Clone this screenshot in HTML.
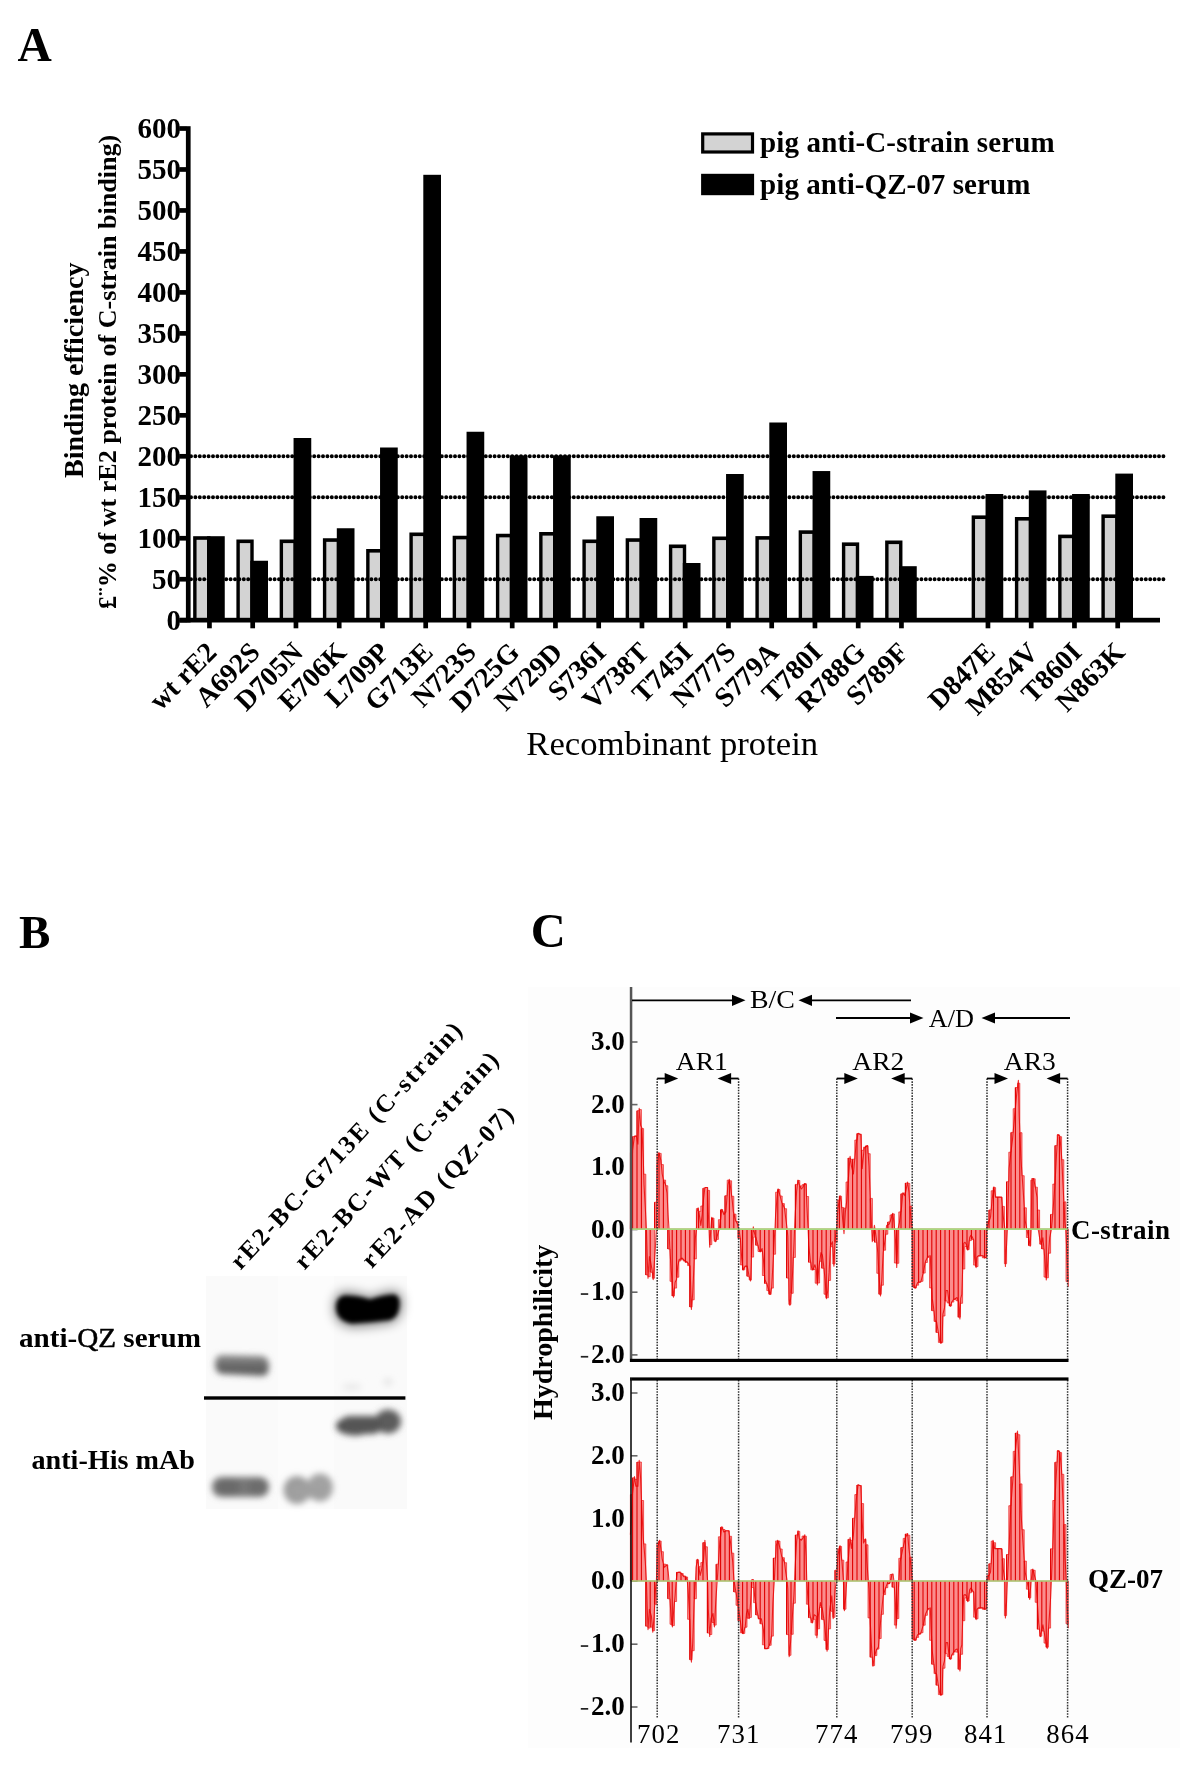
<!DOCTYPE html>
<html><head><meta charset="utf-8"><style>
html,body{margin:0;padding:0;background:#fff;}
svg{display:block;will-change:transform;}
</style></head><body>
<svg width="1200" height="1773" viewBox="0 0 1200 1773">
<defs>
<filter id="bl3" x="-50%" y="-50%" width="200%" height="200%"><feGaussianBlur stdDeviation="3"/></filter>
<filter id="bl6" x="-50%" y="-50%" width="200%" height="200%"><feGaussianBlur stdDeviation="6"/></filter>
<filter id="bl2" x="-50%" y="-50%" width="200%" height="200%"><feGaussianBlur stdDeviation="2"/></filter>
<linearGradient id="gband1" x1="0" y1="0" x2="0" y2="1"><stop offset="0" stop-color="#8c8c8c"/><stop offset="0.7" stop-color="#5e5e5e"/><stop offset="1" stop-color="#666"/></linearGradient>
<pattern id="hatch" x="0" y="0" width="3.4" height="10" patternUnits="userSpaceOnUse"><rect x="0" y="0" width="1.1" height="10" fill="#e40000"/></pattern>
</defs>
<text x="17.5" y="60.6" font-family='"Liberation Serif", serif' font-weight="bold" font-size="47.5">A</text>
<rect x="193.15" y="536.20" width="17.30" height="83.95" fill="#000"/>
<rect x="196.55" y="539.80" width="10.50" height="80.35" fill="#d3d3d3"/>
<rect x="207.05" y="536.20" width="17.70" height="83.95" fill="#000"/>
<rect x="236.40" y="539.50" width="17.30" height="80.65" fill="#000"/>
<rect x="239.80" y="543.10" width="10.50" height="77.05" fill="#d3d3d3"/>
<rect x="250.30" y="560.75" width="17.70" height="59.40" fill="#000"/>
<rect x="279.65" y="539.50" width="17.30" height="80.65" fill="#000"/>
<rect x="283.05" y="543.10" width="10.50" height="77.05" fill="#d3d3d3"/>
<rect x="293.55" y="438.00" width="17.70" height="182.15" fill="#000"/>
<rect x="322.90" y="538.25" width="17.30" height="81.90" fill="#000"/>
<rect x="326.30" y="541.85" width="10.50" height="78.30" fill="#d3d3d3"/>
<rect x="336.80" y="528.25" width="17.70" height="91.90" fill="#000"/>
<rect x="366.15" y="549.00" width="17.30" height="71.15" fill="#000"/>
<rect x="369.55" y="552.60" width="10.50" height="67.55" fill="#d3d3d3"/>
<rect x="380.05" y="447.50" width="17.70" height="172.65" fill="#000"/>
<rect x="409.40" y="532.50" width="17.30" height="87.65" fill="#000"/>
<rect x="412.80" y="536.10" width="10.50" height="84.05" fill="#d3d3d3"/>
<rect x="423.30" y="174.80" width="17.70" height="445.35" fill="#000"/>
<rect x="452.65" y="535.75" width="17.30" height="84.40" fill="#000"/>
<rect x="456.05" y="539.35" width="10.50" height="80.80" fill="#d3d3d3"/>
<rect x="466.55" y="431.75" width="17.70" height="188.40" fill="#000"/>
<rect x="495.90" y="533.75" width="17.30" height="86.40" fill="#000"/>
<rect x="499.30" y="537.35" width="10.50" height="82.80" fill="#d3d3d3"/>
<rect x="509.80" y="455.50" width="17.70" height="164.65" fill="#000"/>
<rect x="539.15" y="532.00" width="17.30" height="88.15" fill="#000"/>
<rect x="542.55" y="535.60" width="10.50" height="84.55" fill="#d3d3d3"/>
<rect x="553.05" y="455.50" width="17.70" height="164.65" fill="#000"/>
<rect x="582.40" y="539.50" width="17.30" height="80.65" fill="#000"/>
<rect x="585.80" y="543.10" width="10.50" height="77.05" fill="#d3d3d3"/>
<rect x="596.30" y="516.25" width="17.70" height="103.90" fill="#000"/>
<rect x="625.65" y="538.25" width="17.30" height="81.90" fill="#000"/>
<rect x="629.05" y="541.85" width="10.50" height="78.30" fill="#d3d3d3"/>
<rect x="639.55" y="518.00" width="17.70" height="102.15" fill="#000"/>
<rect x="668.90" y="544.50" width="17.30" height="75.65" fill="#000"/>
<rect x="672.30" y="548.10" width="10.50" height="72.05" fill="#d3d3d3"/>
<rect x="682.80" y="563.00" width="17.70" height="57.15" fill="#000"/>
<rect x="712.15" y="536.50" width="17.30" height="83.65" fill="#000"/>
<rect x="715.55" y="540.10" width="10.50" height="80.05" fill="#d3d3d3"/>
<rect x="726.05" y="474.00" width="17.70" height="146.15" fill="#000"/>
<rect x="755.40" y="536.10" width="17.30" height="84.05" fill="#000"/>
<rect x="758.80" y="539.70" width="10.50" height="80.45" fill="#d3d3d3"/>
<rect x="769.30" y="422.50" width="17.70" height="197.65" fill="#000"/>
<rect x="798.65" y="530.30" width="17.30" height="89.85" fill="#000"/>
<rect x="802.05" y="533.90" width="10.50" height="86.25" fill="#d3d3d3"/>
<rect x="812.55" y="471.05" width="17.70" height="149.10" fill="#000"/>
<rect x="841.90" y="542.40" width="17.30" height="77.75" fill="#000"/>
<rect x="845.30" y="546.00" width="10.50" height="74.15" fill="#d3d3d3"/>
<rect x="855.80" y="575.90" width="17.70" height="44.25" fill="#000"/>
<rect x="885.15" y="540.50" width="17.30" height="79.65" fill="#000"/>
<rect x="888.55" y="544.10" width="10.50" height="76.05" fill="#d3d3d3"/>
<rect x="899.05" y="566.20" width="17.70" height="53.95" fill="#000"/>
<rect x="971.65" y="515.40" width="17.30" height="104.75" fill="#000"/>
<rect x="975.05" y="519.00" width="10.50" height="101.15" fill="#d3d3d3"/>
<rect x="985.55" y="494.00" width="17.70" height="126.15" fill="#000"/>
<rect x="1014.90" y="517.00" width="17.30" height="103.15" fill="#000"/>
<rect x="1018.30" y="520.60" width="10.50" height="99.55" fill="#d3d3d3"/>
<rect x="1028.80" y="490.40" width="17.70" height="129.75" fill="#000"/>
<rect x="1058.15" y="534.60" width="17.30" height="85.55" fill="#000"/>
<rect x="1061.55" y="538.20" width="10.50" height="81.95" fill="#d3d3d3"/>
<rect x="1072.05" y="494.00" width="17.70" height="126.15" fill="#000"/>
<rect x="1101.40" y="514.40" width="17.30" height="105.75" fill="#000"/>
<rect x="1104.80" y="518.00" width="10.50" height="102.15" fill="#d3d3d3"/>
<rect x="1115.30" y="473.60" width="17.70" height="146.55" fill="#000"/>
<line x1="191" y1="456.30" x2="1164.5" y2="456.30" stroke="#000" stroke-width="4" stroke-dasharray="0 4.4" stroke-linecap="round"/>
<line x1="191" y1="497.28" x2="1164.5" y2="497.28" stroke="#000" stroke-width="4" stroke-dasharray="0 4.4" stroke-linecap="round"/>
<line x1="191" y1="579.23" x2="1164.5" y2="579.23" stroke="#000" stroke-width="4" stroke-dasharray="0 4.4" stroke-linecap="round"/>
<rect x="185.9" y="126.2" width="4.7" height="496.3" fill="#000"/>
<rect x="179.8" y="617.8" width="980.2" height="4.7" fill="#000"/>
<rect x="179.3" y="617.85" width="7" height="4.7" fill="#000"/>
<text x="181" y="630.10" text-anchor="end" font-family='"Liberation Serif", serif' font-weight="bold" font-size="29">0</text>
<rect x="179.3" y="576.88" width="7" height="4.7" fill="#000"/>
<text x="181" y="589.12" text-anchor="end" font-family='"Liberation Serif", serif' font-weight="bold" font-size="29">50</text>
<rect x="179.3" y="535.90" width="7" height="4.7" fill="#000"/>
<text x="181" y="548.15" text-anchor="end" font-family='"Liberation Serif", serif' font-weight="bold" font-size="29">100</text>
<rect x="179.3" y="494.93" width="7" height="4.7" fill="#000"/>
<text x="181" y="507.18" text-anchor="end" font-family='"Liberation Serif", serif' font-weight="bold" font-size="29">150</text>
<rect x="179.3" y="453.95" width="7" height="4.7" fill="#000"/>
<text x="181" y="466.20" text-anchor="end" font-family='"Liberation Serif", serif' font-weight="bold" font-size="29">200</text>
<rect x="179.3" y="412.98" width="7" height="4.7" fill="#000"/>
<text x="181" y="425.23" text-anchor="end" font-family='"Liberation Serif", serif' font-weight="bold" font-size="29">250</text>
<rect x="179.3" y="372.00" width="7" height="4.7" fill="#000"/>
<text x="181" y="384.25" text-anchor="end" font-family='"Liberation Serif", serif' font-weight="bold" font-size="29">300</text>
<rect x="179.3" y="331.03" width="7" height="4.7" fill="#000"/>
<text x="181" y="343.28" text-anchor="end" font-family='"Liberation Serif", serif' font-weight="bold" font-size="29">350</text>
<rect x="179.3" y="290.05" width="7" height="4.7" fill="#000"/>
<text x="181" y="302.30" text-anchor="end" font-family='"Liberation Serif", serif' font-weight="bold" font-size="29">400</text>
<rect x="179.3" y="249.08" width="7" height="4.7" fill="#000"/>
<text x="181" y="261.33" text-anchor="end" font-family='"Liberation Serif", serif' font-weight="bold" font-size="29">450</text>
<rect x="179.3" y="208.10" width="7" height="4.7" fill="#000"/>
<text x="181" y="220.35" text-anchor="end" font-family='"Liberation Serif", serif' font-weight="bold" font-size="29">500</text>
<rect x="179.3" y="167.13" width="7" height="4.7" fill="#000"/>
<text x="181" y="179.38" text-anchor="end" font-family='"Liberation Serif", serif' font-weight="bold" font-size="29">550</text>
<rect x="179.3" y="126.15" width="7" height="4.7" fill="#000"/>
<text x="181" y="138.40" text-anchor="end" font-family='"Liberation Serif", serif' font-weight="bold" font-size="29">600</text>
<rect x="207.10" y="622" width="4.7" height="6.3" fill="#000"/>
<text transform="translate(218.15,653.85) rotate(-45)" text-anchor="end" font-family='"Liberation Serif", serif' font-weight="bold" font-size="28">wt rE2</text>
<rect x="250.35" y="622" width="4.7" height="6.3" fill="#000"/>
<text transform="translate(261.40,653.85) rotate(-45)" text-anchor="end" font-family='"Liberation Serif", serif' font-weight="bold" font-size="28">A692S</text>
<rect x="293.60" y="622" width="4.7" height="6.3" fill="#000"/>
<text transform="translate(304.65,653.85) rotate(-45)" text-anchor="end" font-family='"Liberation Serif", serif' font-weight="bold" font-size="28">D705N</text>
<rect x="336.85" y="622" width="4.7" height="6.3" fill="#000"/>
<text transform="translate(347.90,653.85) rotate(-45)" text-anchor="end" font-family='"Liberation Serif", serif' font-weight="bold" font-size="28">E706K</text>
<rect x="380.10" y="622" width="4.7" height="6.3" fill="#000"/>
<text transform="translate(391.15,653.85) rotate(-45)" text-anchor="end" font-family='"Liberation Serif", serif' font-weight="bold" font-size="28">L709P</text>
<rect x="423.35" y="622" width="4.7" height="6.3" fill="#000"/>
<text transform="translate(434.40,653.85) rotate(-45)" text-anchor="end" font-family='"Liberation Serif", serif' font-weight="bold" font-size="28">G713E</text>
<rect x="466.60" y="622" width="4.7" height="6.3" fill="#000"/>
<text transform="translate(477.65,653.85) rotate(-45)" text-anchor="end" font-family='"Liberation Serif", serif' font-weight="bold" font-size="28">N723S</text>
<rect x="509.85" y="622" width="4.7" height="6.3" fill="#000"/>
<text transform="translate(520.90,653.85) rotate(-45)" text-anchor="end" font-family='"Liberation Serif", serif' font-weight="bold" font-size="28">D725G</text>
<rect x="553.10" y="622" width="4.7" height="6.3" fill="#000"/>
<text transform="translate(564.15,653.85) rotate(-45)" text-anchor="end" font-family='"Liberation Serif", serif' font-weight="bold" font-size="28">N729D</text>
<rect x="596.35" y="622" width="4.7" height="6.3" fill="#000"/>
<text transform="translate(607.40,653.85) rotate(-45)" text-anchor="end" font-family='"Liberation Serif", serif' font-weight="bold" font-size="28">S736I</text>
<rect x="639.60" y="622" width="4.7" height="6.3" fill="#000"/>
<text transform="translate(650.65,653.85) rotate(-45)" text-anchor="end" font-family='"Liberation Serif", serif' font-weight="bold" font-size="28">V738T</text>
<rect x="682.85" y="622" width="4.7" height="6.3" fill="#000"/>
<text transform="translate(693.90,653.85) rotate(-45)" text-anchor="end" font-family='"Liberation Serif", serif' font-weight="bold" font-size="28">T745I</text>
<rect x="726.10" y="622" width="4.7" height="6.3" fill="#000"/>
<text transform="translate(737.15,653.85) rotate(-45)" text-anchor="end" font-family='"Liberation Serif", serif' font-weight="bold" font-size="28">N777S</text>
<rect x="769.35" y="622" width="4.7" height="6.3" fill="#000"/>
<text transform="translate(780.40,653.85) rotate(-45)" text-anchor="end" font-family='"Liberation Serif", serif' font-weight="bold" font-size="28">S779A</text>
<rect x="812.60" y="622" width="4.7" height="6.3" fill="#000"/>
<text transform="translate(823.65,653.85) rotate(-45)" text-anchor="end" font-family='"Liberation Serif", serif' font-weight="bold" font-size="28">T780I</text>
<rect x="855.85" y="622" width="4.7" height="6.3" fill="#000"/>
<text transform="translate(866.90,653.85) rotate(-45)" text-anchor="end" font-family='"Liberation Serif", serif' font-weight="bold" font-size="28">R788G</text>
<rect x="899.10" y="622" width="4.7" height="6.3" fill="#000"/>
<text transform="translate(910.15,653.85) rotate(-45)" text-anchor="end" font-family='"Liberation Serif", serif' font-weight="bold" font-size="28">S789F</text>
<rect x="985.60" y="622" width="4.7" height="6.3" fill="#000"/>
<text transform="translate(996.65,653.85) rotate(-45)" text-anchor="end" font-family='"Liberation Serif", serif' font-weight="bold" font-size="28">D847E</text>
<rect x="1028.85" y="622" width="4.7" height="6.3" fill="#000"/>
<text transform="translate(1039.90,653.85) rotate(-45)" text-anchor="end" font-family='"Liberation Serif", serif' font-weight="bold" font-size="28">M854V</text>
<rect x="1072.10" y="622" width="4.7" height="6.3" fill="#000"/>
<text transform="translate(1083.15,653.85) rotate(-45)" text-anchor="end" font-family='"Liberation Serif", serif' font-weight="bold" font-size="28">T860I</text>
<rect x="1115.35" y="622" width="4.7" height="6.3" fill="#000"/>
<text transform="translate(1126.40,653.85) rotate(-45)" text-anchor="end" font-family='"Liberation Serif", serif' font-weight="bold" font-size="28">N863K</text>
<text transform="translate(82.8,478) rotate(-90)" font-family='"Liberation Serif", serif' font-weight="bold" font-size="28">Binding efficiency</text>
<text transform="translate(116,609) rotate(-90)" font-family='"Liberation Serif", serif' font-weight="bold" font-size="26.1">£¨% of wt rE2 protein of C-strain binding)</text>
<text x="526.3" y="754.9" font-family='"Liberation Serif", serif' font-size="34.7">Recombinant protein</text>
<rect x="702.7" y="133.9" width="49.8" height="18.1" fill="#d3d3d3" stroke="#000" stroke-width="3.2"/>
<rect x="701.1" y="173.8" width="53" height="21.4" fill="#000"/>
<text x="760.1" y="152.1" font-family='"Liberation Serif", serif' font-weight="bold" font-size="29" textLength="294.6" lengthAdjust="spacing">pig anti-C-strain serum</text>
<text x="760.1" y="194.4" font-family='"Liberation Serif", serif' font-weight="bold" font-size="29" textLength="270.2" lengthAdjust="spacing">pig anti-QZ-07 serum</text>
<text x="19" y="948.3" font-family='"Liberation Serif", serif' font-weight="bold" font-size="47">B</text>
<rect x="206" y="1276" width="201" height="233" fill="#fafafa"/>
<rect x="278" y="1276" width="56" height="233" fill="#fcfcfc"/>
<g filter="url(#bl3)">
<path d="M222,1355 L262,1356 Q269,1357 269,1366 Q269,1376 262,1376 L222,1374 Q215,1373 215,1364 Q215,1355 222,1355 Z" fill="url(#gband1)"/>
<ellipse cx="355" cy="1426" rx="19" ry="9.5" fill="#4a4a4a"/>
<ellipse cx="388" cy="1421.5" rx="13" ry="12" fill="#5c5c5c"/>
<rect x="341" y="1416" width="40" height="18" rx="8" fill="#555"/>
<rect x="212" y="1477" width="57" height="20" rx="9" fill="#777"/>
<ellipse cx="228" cy="1487" rx="12" ry="9" fill="#6a6a6a"/>
<ellipse cx="258" cy="1487" rx="10" ry="9" fill="#6d6d6d"/>
<ellipse cx="297" cy="1490" rx="13.5" ry="14" fill="#9c9c9c"/>
<ellipse cx="320" cy="1487.5" rx="13" ry="14" fill="#a2a2a2"/>
<rect x="292" y="1486" width="30" height="12" fill="#a0a0a0"/>
<ellipse cx="352" cy="1387" rx="10" ry="4" fill="#ececec"/>
<ellipse cx="388" cy="1382" rx="5" ry="4" fill="#e8e8e8"/>
</g>
<g filter="url(#bl6)" opacity="0.5"><path d="M334,1308 Q334,1292 346,1292 Q360,1293 370,1298 Q383,1292 394,1291 Q403,1293 402,1304 Q401,1320 390,1323 Q372,1326 352,1327 Q334,1324 334,1308 Z" fill="#000"/></g>
<g filter="url(#bl2)"><path d="M336,1308 Q336,1296 346,1295.5 Q360,1296 370,1299.5 Q383,1295 394,1294.5 Q400,1296 399.5,1304 Q399,1317 390,1320 Q372,1322 352,1323.5 Q337,1321 336,1308 Z" fill="#000"/></g>
<rect x="204" y="1396.3" width="201.4" height="3.4" fill="#000"/>
<text x="19" y="1346.5" font-family='"Liberation Serif", serif' font-weight="bold" font-size="28" textLength="182" lengthAdjust="spacingAndGlyphs">anti-<tspan font-weight="normal" stroke="#000" stroke-width="0.5">QZ</tspan> serum</text>
<text x="31.5" y="1468.5" font-family='"Liberation Serif", serif' font-weight="bold" font-size="28" textLength="163.5" lengthAdjust="spacingAndGlyphs">anti-His mAb</text>
<text transform="translate(240.5,1270.7) rotate(-47)" font-family='"Liberation Serif", serif' font-weight="bold" font-size="25" textLength="327" lengthAdjust="spacing">rE2-BC-G713E (C-strain)</text>
<text transform="translate(304.5,1270.7) rotate(-47)" font-family='"Liberation Serif", serif' font-weight="bold" font-size="25" textLength="286.5" lengthAdjust="spacing">rE2-BC-WT (C-strain)</text>
<text transform="translate(371.8,1269.3) rotate(-47)" font-family='"Liberation Serif", serif' font-weight="bold" font-size="25" textLength="210" lengthAdjust="spacing">rE2-AD (QZ-07)</text>
<text x="530.8" y="947.4" font-family='"Liberation Serif", serif' font-weight="bold" font-size="48.5">C</text>
<rect x="528" y="987" width="652" height="761" fill="#fdfdfd"/>
<rect x="631" y="1041.2" width="6.5" height="1.6" fill="#666"/>
<text x="624.8" y="1050.1" text-anchor="end" font-family='"Liberation Serif", serif' font-weight="bold" font-size="27">3.0</text>
<rect x="631" y="1103.8" width="6.5" height="1.6" fill="#666"/>
<text x="624.8" y="1112.7" text-anchor="end" font-family='"Liberation Serif", serif' font-weight="bold" font-size="27">2.0</text>
<rect x="631" y="1166.4" width="6.5" height="1.6" fill="#666"/>
<text x="624.8" y="1175.3" text-anchor="end" font-family='"Liberation Serif", serif' font-weight="bold" font-size="27">1.0</text>
<rect x="631" y="1228.7" width="6.5" height="1.6" fill="#666"/>
<text x="624.8" y="1237.6" text-anchor="end" font-family='"Liberation Serif", serif' font-weight="bold" font-size="27">0.0</text>
<rect x="631" y="1291.4" width="6.5" height="1.6" fill="#666"/>
<text x="624.8" y="1300.3" text-anchor="end" font-family='"Liberation Serif", serif' font-weight="bold" font-size="27">1.0</text>
<rect x="580.8" y="1293.2" width="7.4" height="1.7" fill="#222"/>
<rect x="631" y="1354.1" width="6.5" height="1.6" fill="#666"/>
<text x="624.8" y="1363.0" text-anchor="end" font-family='"Liberation Serif", serif' font-weight="bold" font-size="27">2.0</text>
<rect x="580.8" y="1355.9" width="7.4" height="1.7" fill="#222"/>
<rect x="631" y="1392.2" width="6.5" height="1.6" fill="#666"/>
<text x="624.8" y="1401.1" text-anchor="end" font-family='"Liberation Serif", serif' font-weight="bold" font-size="27">3.0</text>
<rect x="631" y="1455.0" width="6.5" height="1.6" fill="#666"/>
<text x="624.8" y="1463.9" text-anchor="end" font-family='"Liberation Serif", serif' font-weight="bold" font-size="27">2.0</text>
<rect x="631" y="1517.8" width="6.5" height="1.6" fill="#666"/>
<text x="624.8" y="1526.7" text-anchor="end" font-family='"Liberation Serif", serif' font-weight="bold" font-size="27">1.0</text>
<rect x="631" y="1580.4" width="6.5" height="1.6" fill="#666"/>
<text x="624.8" y="1589.3" text-anchor="end" font-family='"Liberation Serif", serif' font-weight="bold" font-size="27">0.0</text>
<rect x="631" y="1643.4" width="6.5" height="1.6" fill="#666"/>
<text x="624.8" y="1652.3" text-anchor="end" font-family='"Liberation Serif", serif' font-weight="bold" font-size="27">1.0</text>
<rect x="580.8" y="1645.2" width="7.4" height="1.7" fill="#222"/>
<rect x="631" y="1706.2" width="6.5" height="1.6" fill="#666"/>
<text x="624.8" y="1715.1" text-anchor="end" font-family='"Liberation Serif", serif' font-weight="bold" font-size="27">2.0</text>
<rect x="580.8" y="1708.0" width="7.4" height="1.7" fill="#222"/>
<path d="M630.4,1229.1 L630.4,1152.6 L632.6,1152.6 L632.6,1136.6 L634.8,1136.6 L634.8,1136.1 L637.0,1136.1 L637.0,1110.7 L639.2,1110.7 L639.2,1109.6 L641.4,1109.6 L641.4,1128.6 L643.6,1128.6 L643.6,1174.2 L645.8,1174.2 L645.8,1274.9 L648.0,1274.9 L648.0,1276.7 L650.2,1276.7 L650.2,1272.3 L652.4,1272.3 L652.4,1278.2 L654.6,1278.2 L654.6,1202.2 L656.8,1202.2 L656.8,1153.8 L659.0,1153.8 L659.0,1153.4 L661.2,1153.4 L661.2,1164.6 L663.4,1164.6 L663.4,1180.1 L665.6,1180.1 L665.6,1185.7 L667.8,1185.7 L667.8,1249.0 L670.0,1249.0 L670.0,1281.3 L672.2,1281.3 L672.2,1295.9 L674.4,1295.9 L674.4,1288.1 L676.6,1288.1 L676.6,1277.2 L678.8,1277.2 L678.8,1260.9 L681.0,1260.9 L681.0,1259.2 L683.2,1259.2 L683.2,1261.0 L685.4,1261.0 L685.4,1262.4 L687.6,1262.4 L687.6,1265.6 L689.8,1265.6 L689.8,1307.0 L692.0,1307.0 L692.0,1299.8 L694.2,1299.8 L694.2,1258.9 L696.4,1258.9 L696.4,1208.6 L698.6,1208.6 L698.6,1211.4 L700.8,1211.4 L700.8,1206.0 L703.0,1206.0 L703.0,1188.2 L705.2,1188.2 L705.2,1187.5 L707.4,1187.5 L707.4,1190.4 L709.6,1190.4 L709.6,1244.6 L711.8,1244.6 L711.8,1218.1 L714.0,1218.1 L714.0,1241.2 L716.2,1241.2 L716.2,1239.4 L718.4,1239.4 L718.4,1219.7 L720.6,1219.7 L720.6,1209.7 L722.8,1209.7 L722.8,1212.0 L725.0,1212.0 L725.0,1195.7 L727.2,1195.7 L727.2,1180.2 L729.4,1180.2 L729.4,1180.8 L731.6,1180.8 L731.6,1196.3 L733.8,1196.3 L733.8,1214.2 L736.0,1214.2 L736.0,1221.5 L738.2,1221.5 L738.2,1238.3 L740.4,1238.3 L740.4,1264.9 L742.6,1264.9 L742.6,1269.8 L744.8,1269.8 L744.8,1266.7 L747.0,1266.7 L747.0,1276.3 L749.2,1276.3 L749.2,1279.9 L751.4,1279.9 L751.4,1257.1 L753.6,1257.1 L753.6,1237.1 L755.8,1237.1 L755.8,1245.3 L758.0,1245.3 L758.0,1251.5 L760.2,1251.5 L760.2,1251.4 L762.4,1251.4 L762.4,1275.5 L764.6,1275.5 L764.6,1283.4 L766.8,1283.4 L766.8,1290.6 L769.0,1290.6 L769.0,1294.3 L771.2,1294.3 L771.2,1288.1 L773.4,1288.1 L773.4,1254.2 L775.6,1254.2 L775.6,1192.2 L777.8,1192.2 L777.8,1189.6 L780.0,1189.6 L780.0,1196.0 L782.2,1196.0 L782.2,1203.6 L784.4,1203.6 L784.4,1208.7 L786.6,1208.7 L786.6,1278.1 L788.8,1278.1 L788.8,1304.4 L791.0,1304.4 L791.0,1293.3 L793.2,1293.3 L793.2,1257.4 L795.4,1257.4 L795.4,1184.4 L797.6,1184.4 L797.6,1180.5 L799.8,1180.5 L799.8,1186.0 L802.0,1186.0 L802.0,1184.7 L804.2,1184.7 L804.2,1183.7 L806.4,1183.7 L806.4,1196.5 L808.6,1196.5 L808.6,1262.3 L810.8,1262.3 L810.8,1269.8 L813.0,1269.8 L813.0,1269.5 L815.2,1269.5 L815.2,1283.2 L817.4,1283.2 L817.4,1283.0 L819.6,1283.0 L819.6,1261.2 L821.8,1261.2 L821.8,1268.2 L824.0,1268.2 L824.0,1294.2 L826.2,1294.2 L826.2,1297.8 L828.4,1297.8 L828.4,1280.4 L830.6,1280.4 L830.6,1246.7 L832.8,1246.7 L832.8,1264.0 L835.0,1264.0 L835.0,1242.1 L837.2,1242.1 L837.2,1200.2 L839.4,1200.2 L839.4,1196.3 L841.6,1196.3 L841.6,1207.6 L843.8,1207.6 L843.8,1208.2 L846.0,1208.2 L846.0,1182.0 L848.2,1182.0 L848.2,1158.1 L850.4,1158.1 L850.4,1159.3 L852.6,1159.3 L852.6,1159.2 L854.8,1159.2 L854.8,1140.1 L857.0,1140.1 L857.0,1133.6 L859.2,1133.6 L859.2,1134.2 L861.4,1134.2 L861.4,1150.3 L863.6,1150.3 L863.6,1147.1 L865.8,1147.1 L865.8,1145.8 L868.0,1145.8 L868.0,1153.7 L870.2,1153.7 L870.2,1198.4 L872.4,1198.4 L872.4,1240.3 L874.6,1240.3 L874.6,1242.2 L876.8,1242.2 L876.8,1273.3 L879.0,1273.3 L879.0,1294.3 L881.2,1294.3 L881.2,1285.2 L883.4,1285.2 L883.4,1250.2 L885.6,1250.2 L885.6,1234.2 L887.8,1234.2 L887.8,1221.9 L890.0,1221.9 L890.0,1215.0 L892.2,1215.0 L892.2,1213.9 L894.4,1213.9 L894.4,1263.0 L896.6,1263.0 L896.6,1263.3 L898.8,1263.3 L898.8,1211.9 L901.0,1211.9 L901.0,1193.8 L903.2,1193.8 L903.2,1193.0 L905.4,1193.0 L905.4,1183.0 L907.6,1183.0 L907.6,1183.4 L909.8,1183.4 L909.8,1206.3 L912.0,1206.3 L912.0,1285.7 L914.2,1285.7 L914.2,1288.0 L916.4,1288.0 L916.4,1285.2 L918.6,1285.2 L918.6,1282.3 L920.8,1282.3 L920.8,1281.3 L923.0,1281.3 L923.0,1273.1 L925.2,1273.1 L925.2,1262.5 L927.4,1262.5 L927.4,1257.4 L929.6,1257.4 L929.6,1287.9 L931.8,1287.9 L931.8,1310.7 L934.0,1310.7 L934.0,1321.4 L936.2,1321.4 L936.2,1332.5 L938.4,1332.5 L938.4,1342.4 L940.6,1342.4 L940.6,1342.6 L942.8,1342.6 L942.8,1316.0 L945.0,1316.0 L945.0,1301.0 L947.2,1301.0 L947.2,1302.9 L949.4,1302.9 L949.4,1306.0 L951.6,1306.0 L951.6,1302.1 L953.8,1302.1 L953.8,1299.4 L956.0,1299.4 L956.0,1300.7 L958.2,1300.7 L958.2,1317.2 L960.4,1317.2 L960.4,1303.3 L962.6,1303.3 L962.6,1269.0 L964.8,1269.0 L964.8,1246.5 L967.0,1246.5 L967.0,1249.5 L969.2,1249.5 L969.2,1240.6 L971.4,1240.6 L971.4,1239.6 L973.6,1239.6 L973.6,1265.1 L975.8,1265.1 L975.8,1266.6 L978.0,1266.6 L978.0,1256.1 L980.2,1256.1 L980.2,1255.7 L982.4,1255.7 L982.4,1257.8 L984.6,1257.8 L984.6,1257.6 L986.8,1257.6 L986.8,1221.6 L989.0,1221.6 L989.0,1209.9 L991.2,1209.9 L991.2,1190.8 L993.4,1190.8 L993.4,1187.6 L995.6,1187.6 L995.6,1197.1 L997.8,1197.1 L997.8,1197.1 L1000.0,1197.1 L1000.0,1197.3 L1002.2,1197.3 L1002.2,1206.4 L1004.4,1206.4 L1004.4,1263.7 L1006.6,1263.7 L1006.6,1181.7 L1008.8,1181.7 L1008.8,1152.2 L1011.0,1152.2 L1011.0,1132.4 L1013.2,1132.4 L1013.2,1108.7 L1015.4,1108.7 L1015.4,1087.5 L1017.6,1087.5 L1017.6,1083.2 L1019.8,1083.2 L1019.8,1132.7 L1022.0,1132.7 L1022.0,1175.7 L1024.2,1175.7 L1024.2,1207.8 L1026.4,1207.8 L1026.4,1237.5 L1028.6,1237.5 L1028.6,1245.6 L1030.8,1245.6 L1030.8,1180.2 L1033.0,1180.2 L1033.0,1178.8 L1035.2,1178.8 L1035.2,1187.2 L1037.4,1187.2 L1037.4,1210.0 L1039.6,1210.0 L1039.6,1244.1 L1041.8,1244.1 L1041.8,1248.9 L1044.0,1248.9 L1044.0,1277.1 L1046.2,1277.1 L1046.2,1277.8 L1048.4,1277.8 L1048.4,1253.2 L1050.6,1253.2 L1050.6,1214.4 L1052.8,1214.4 L1052.8,1184.1 L1055.0,1184.1 L1055.0,1145.6 L1057.2,1145.6 L1057.2,1134.8 L1059.4,1134.8 L1059.4,1136.7 L1061.6,1136.7 L1061.6,1159.7 L1063.8,1159.7 L1063.8,1201.9 L1066.0,1201.9 L1066.0,1281.6 L1068.2,1281.6 L1068.3,1229.1 Z" fill="#fb8d8d" stroke="#ec2020" stroke-width="0.7" stroke-linejoin="miter"/>
<path d="M632.6,1229.1V1136.6M637.0,1229.1V1110.7M641.4,1229.1V1128.6M645.8,1229.1V1274.9M650.2,1229.1V1272.3M654.6,1229.1V1202.2M659.0,1229.1V1153.4M663.4,1229.1V1180.1M667.8,1229.1V1249.0M672.2,1229.1V1295.9M676.6,1229.1V1277.2M681.0,1229.1V1259.2M685.4,1229.1V1262.4M689.8,1229.1V1307.0M694.2,1229.1V1258.9M698.6,1229.1V1211.4M703.0,1229.1V1188.2M707.4,1229.1V1190.4M711.8,1229.1V1218.1M716.2,1229.1V1239.4M720.6,1229.1V1209.7M725.0,1229.1V1195.7M729.4,1229.1V1180.8M733.8,1229.1V1214.2M738.2,1229.1V1238.3M742.6,1229.1V1269.8M747.0,1229.1V1276.3M751.4,1229.1V1257.1M755.8,1229.1V1245.3M760.2,1229.1V1251.4M764.6,1229.1V1283.4M769.0,1229.1V1294.3M773.4,1229.1V1254.2M777.8,1229.1V1189.6M782.2,1229.1V1203.6M786.6,1229.1V1278.1M791.0,1229.1V1293.3M795.4,1229.1V1184.4M799.8,1229.1V1186.0M804.2,1229.1V1183.7M808.6,1229.1V1262.3M813.0,1229.1V1269.5M817.4,1229.1V1283.0M821.8,1229.1V1268.2M826.2,1229.1V1297.8M830.6,1229.1V1246.7M835.0,1229.1V1242.1M839.4,1229.1V1196.3M843.8,1229.1V1208.2M848.2,1229.1V1158.1M852.6,1229.1V1159.2M857.0,1229.1V1133.6M861.4,1229.1V1150.3M865.8,1229.1V1145.8M870.2,1229.1V1198.4M874.6,1229.1V1242.2M879.0,1229.1V1294.3M883.4,1229.1V1250.2M887.8,1229.1V1221.9M892.2,1229.1V1213.9M896.6,1229.1V1263.3M901.0,1229.1V1193.8M905.4,1229.1V1183.0M909.8,1229.1V1206.3M914.2,1229.1V1288.0M918.6,1229.1V1282.3M923.0,1229.1V1273.1M927.4,1229.1V1257.4M931.8,1229.1V1310.7M936.2,1229.1V1332.5M940.6,1229.1V1342.6M945.0,1229.1V1301.0M949.4,1229.1V1306.0M953.8,1229.1V1299.4M958.2,1229.1V1317.2M962.6,1229.1V1269.0M967.0,1229.1V1249.5M971.4,1229.1V1239.6M975.8,1229.1V1266.6M980.2,1229.1V1255.7M984.6,1229.1V1257.6M989.0,1229.1V1209.9M993.4,1229.1V1187.6M997.8,1229.1V1197.1M1002.2,1229.1V1206.4M1006.6,1229.1V1181.7M1011.0,1229.1V1132.4M1015.4,1229.1V1087.5M1019.8,1229.1V1132.7M1024.2,1229.1V1207.8M1028.6,1229.1V1245.6M1033.0,1229.1V1178.8M1037.4,1229.1V1210.0M1041.8,1229.1V1248.9M1046.2,1229.1V1277.8M1050.6,1229.1V1214.4M1055.0,1229.1V1145.6M1059.4,1229.1V1136.7M1063.8,1229.1V1201.9" stroke="#e00000" stroke-width="1.1" fill="none"/>
<path d="M630.4,1228.8 L631.1,1182.1 L632.4,1151.0 L634.5,1136.1 L636.5,1136.1 L637.9,1144.2 L639.2,1108.3 L640.6,1125.2 L641.9,1127.9 L643.3,1159.1 L644.0,1184.8 L645.3,1207.8 L646.4,1228.8 L647.3,1259.3 L648.0,1278.3 L649.4,1256.6 L650.7,1262.0 L652.1,1270.1 L653.2,1279.6 L654.1,1266.1 L655.5,1245.8 L656.4,1228.8 L657.2,1165.8 L658.9,1152.3 L660.9,1160.4 L662.2,1174.0 L663.6,1180.7 L665.6,1184.8 L667.0,1192.9 L668.1,1214.6 L669.0,1228.8 L669.7,1245.8 L671.1,1268.8 L672.4,1285.0 L673.5,1297.2 L675.1,1282.3 L676.5,1279.6 L677.8,1266.1 L679.2,1259.3 L680.5,1259.3 L681.9,1258.0 L684.6,1260.7 L687.3,1262.0 L690.0,1266.1 L691.4,1309.4 L692.7,1293.2 L694.1,1263.4 L695.4,1237.6 L696.5,1228.8 L696.8,1211.9 L698.1,1207.8 L699.5,1216.0 L700.8,1225.4 L702.2,1214.6 L703.6,1198.4 L704.9,1187.5 L707.6,1187.5 L708.3,1211.9 L709.0,1228.8 L709.7,1247.1 L710.6,1232.2 L711.7,1217.3 L713.0,1220.0 L714.4,1239.0 L715.7,1241.7 L717.1,1236.3 L719.1,1229.5 L720.5,1220.0 L721.8,1209.2 L723.9,1214.6 L725.9,1211.9 L727.9,1184.8 L729.3,1179.4 L730.6,1187.5 L732.0,1198.4 L733.4,1211.9 L735.4,1220.0 L737.4,1224.1 L738.8,1228.8 L740.4,1239.0 L741.8,1259.3 L743.1,1270.1 L745.2,1266.1 L747.2,1266.1 L749.2,1276.9 L750.6,1281.0 L751.9,1245.8 L753.3,1226.8 L754.6,1233.6 L756.7,1240.3 L758.7,1248.5 L760.1,1251.9 L762.1,1248.5 L763.4,1259.3 L764.8,1279.6 L766.8,1283.7 L768.9,1290.5 L770.2,1294.5 L771.6,1287.8 L772.9,1266.1 L774.3,1239.0 L775.0,1228.8 L775.6,1214.6 L777.0,1198.4 L778.1,1188.9 L779.7,1194.3 L781.7,1202.4 L783.1,1205.1 L784.4,1207.8 L785.8,1218.7 L787.1,1228.8 L787.8,1236.3 L788.5,1266.1 L789.2,1299.9 L789.9,1305.4 L791.2,1293.2 L792.6,1272.9 L793.9,1245.8 L794.6,1228.8 L795.3,1213.3 L796.6,1191.6 L798.0,1180.1 L799.3,1184.8 L801.4,1188.9 L802.7,1187.5 L804.8,1183.5 L806.1,1184.8 L806.8,1205.1 L808.1,1228.8 L808.8,1245.8 L810.2,1259.3 L811.5,1267.4 L812.9,1270.1 L814.9,1264.7 L816.3,1270.1 L817.4,1285.0 L819.0,1266.1 L821.0,1252.5 L822.4,1255.2 L823.7,1266.1 L825.1,1279.6 L826.4,1298.6 L827.8,1290.5 L829.1,1272.9 L830.5,1245.8 L832.5,1241.7 L833.9,1266.1 L835.2,1239.0 L836.6,1228.8 L837.9,1209.2 L840.0,1195.6 L841.3,1202.4 L842.7,1220.0 L844.0,1233.6 L845.4,1211.9 L846.7,1201.1 L848.1,1182.1 L850.1,1156.4 L851.4,1165.8 L853.4,1174.0 L856.1,1144.2 L858.1,1133.3 L860.8,1134.7 L862.2,1168.6 L864.2,1148.2 L867.6,1145.5 L869.0,1165.8 L870.3,1198.4 L871.7,1228.8 L872.3,1241.7 L874.4,1225.4 L876.4,1239.0 L877.8,1252.5 L879.1,1276.9 L880.5,1295.9 L881.8,1279.6 L883.2,1252.5 L885.2,1239.0 L886.6,1225.4 L889.3,1224.1 L892.7,1213.3 L894.0,1222.7 L895.4,1239.0 L896.7,1267.4 L897.4,1252.5 L898.1,1228.8 L899.4,1222.7 L901.5,1207.8 L902.8,1192.9 L904.9,1195.6 L907.6,1182.1 L908.9,1191.6 L910.3,1211.9 L911.6,1224.1 L912.3,1228.8 L912.9,1286.5 L915.3,1288.1 L917.6,1282.6 L920.8,1281.8 L923.2,1273.1 L925.5,1261.3 L927.9,1256.5 L930.3,1255.7 L931.1,1274.7 L932.2,1298.4 L933.4,1306.3 L935.0,1320.5 L936.6,1322.1 L938.2,1331.5 L939.7,1341.0 L940.9,1343.4 L942.1,1341.0 L942.9,1314.2 L944.5,1307.9 L946.1,1290.5 L947.6,1290.5 L949.2,1303.1 L950.4,1306.3 L951.6,1302.3 L953.2,1300.0 L955.5,1298.4 L957.1,1297.6 L958.7,1302.3 L959.9,1318.9 L960.7,1298.4 L961.8,1294.4 L963.0,1258.9 L963.8,1243.1 L965.0,1242.3 L966.6,1244.7 L967.8,1250.2 L968.6,1245.5 L969.7,1237.6 L970.9,1235.2 L972.1,1236.8 L973.7,1240.0 L974.5,1257.3 L976.1,1267.6 L976.8,1257.3 L978.4,1255.7 L980.8,1255.7 L983.2,1255.7 L984.7,1258.1 L986.3,1257.3 L986.7,1229.3 L987.9,1224.2 L990.5,1217.4 L992.2,1198.8 L993.9,1186.9 L995.5,1197.1 L998.1,1197.1 L1001.5,1197.1 L1003.2,1215.7 L1004.9,1229.3 L1005.4,1266.5 L1006.5,1246.2 L1007.4,1229.3 L1009.1,1168.3 L1010.8,1153.1 L1012.5,1139.6 L1014.2,1120.9 L1016.7,1093.9 L1018.4,1080.3 L1019.2,1115.9 L1020.9,1158.2 L1023.5,1195.4 L1025.2,1220.8 L1026.9,1229.3 L1028.6,1237.7 L1030.2,1246.2 L1031.1,1229.3 L1031.9,1178.5 L1033.6,1178.5 L1035.3,1186.9 L1037.0,1197.1 L1038.2,1229.3 L1039.6,1237.7 L1041.2,1244.5 L1042.9,1237.7 L1044.6,1256.3 L1046.3,1280.0 L1048.0,1259.7 L1049.7,1237.7 L1051.4,1229.3 L1052.2,1220.8 L1054.8,1186.9 L1056.5,1154.8 L1057.8,1134.5 L1059.9,1136.2 L1061.6,1156.5 L1063.2,1188.6 L1064.9,1222.5 L1065.8,1229.3 L1066.6,1246.2 L1068.3,1286.8" fill="none" stroke="#e80000" stroke-width="1.1" stroke-linejoin="round" opacity="0.8"/>
<line x1="631" y1="1229.1" x2="1068" y2="1229.1" stroke="#a8d880" stroke-width="1.6"/>
<path d="M630.4,1581.0 L630.4,1494.7 L632.6,1494.7 L632.6,1477.8 L634.8,1477.8 L634.8,1479.5 L637.0,1479.5 L637.0,1462.1 L639.2,1462.1 L639.2,1462.0 L641.4,1462.0 L641.4,1500.5 L643.6,1500.5 L643.6,1543.9 L645.8,1543.9 L645.8,1626.2 L648.0,1626.2 L648.0,1628.1 L650.2,1628.1 L650.2,1627.1 L652.4,1627.1 L652.4,1630.7 L654.6,1630.7 L654.6,1604.3 L656.8,1604.3 L656.8,1543.1 L659.0,1543.1 L659.0,1541.1 L661.2,1541.1 L661.2,1551.7 L663.4,1551.7 L663.4,1564.1 L665.6,1564.1 L665.6,1564.9 L667.8,1564.9 L667.8,1598.8 L670.0,1598.8 L670.0,1624.3 L672.2,1624.3 L672.2,1625.6 L674.4,1625.6 L674.4,1601.5 L676.6,1601.5 L676.6,1572.3 L678.8,1572.3 L678.8,1572.1 L681.0,1572.1 L681.0,1573.5 L683.2,1573.5 L683.2,1575.9 L685.4,1575.9 L685.4,1577.0 L687.6,1577.0 L687.6,1619.3 L689.8,1619.3 L689.8,1659.8 L692.0,1659.8 L692.0,1650.7 L694.2,1650.7 L694.2,1598.7 L696.4,1598.7 L696.4,1559.8 L698.6,1559.8 L698.6,1566.7 L700.8,1566.7 L700.8,1562.6 L703.0,1562.6 L703.0,1542.6 L705.2,1542.6 L705.2,1546.8 L707.4,1546.8 L707.4,1633.1 L709.6,1633.1 L709.6,1634.5 L711.8,1634.5 L711.8,1622.5 L714.0,1622.5 L714.0,1625.1 L716.2,1625.1 L716.2,1564.2 L718.4,1564.2 L718.4,1536.8 L720.6,1536.8 L720.6,1527.2 L722.8,1527.2 L722.8,1529.5 L725.0,1529.5 L725.0,1530.8 L727.2,1530.8 L727.2,1530.8 L729.4,1530.8 L729.4,1536.3 L731.6,1536.3 L731.6,1553.2 L733.8,1553.2 L733.8,1592.0 L736.0,1592.0 L736.0,1605.3 L738.2,1605.3 L738.2,1620.7 L740.4,1620.7 L740.4,1632.8 L742.6,1632.8 L742.6,1633.4 L744.8,1633.4 L744.8,1627.2 L747.0,1627.2 L747.0,1618.2 L749.2,1618.2 L749.2,1617.4 L751.4,1617.4 L751.4,1587.5 L753.6,1587.5 L753.6,1602.7 L755.8,1602.7 L755.8,1615.0 L758.0,1615.0 L758.0,1618.7 L760.2,1618.7 L760.2,1623.8 L762.4,1623.8 L762.4,1644.8 L764.6,1644.8 L764.6,1648.6 L766.8,1648.6 L766.8,1648.5 L769.0,1648.5 L769.0,1645.3 L771.2,1645.3 L771.2,1636.1 L773.4,1636.1 L773.4,1558.0 L775.6,1558.0 L775.6,1540.9 L777.8,1540.9 L777.8,1541.1 L780.0,1541.1 L780.0,1549.0 L782.2,1549.0 L782.2,1557.7 L784.4,1557.7 L784.4,1562.7 L786.6,1562.7 L786.6,1634.6 L788.8,1634.6 L788.8,1655.3 L791.0,1655.3 L791.0,1634.3 L793.2,1634.3 L793.2,1603.2 L795.4,1603.2 L795.4,1534.9 L797.6,1534.9 L797.6,1531.4 L799.8,1531.4 L799.8,1539.2 L802.0,1539.2 L802.0,1536.1 L804.2,1536.1 L804.2,1536.2 L806.4,1536.2 L806.4,1604.2 L808.6,1604.2 L808.6,1617.7 L810.8,1617.7 L810.8,1622.6 L813.0,1622.6 L813.0,1619.3 L815.2,1619.3 L815.2,1635.2 L817.4,1635.2 L817.4,1628.8 L819.6,1628.8 L819.6,1607.3 L821.8,1607.3 L821.8,1619.6 L824.0,1619.6 L824.0,1640.4 L826.2,1640.4 L826.2,1649.6 L828.4,1649.6 L828.4,1628.8 L830.6,1628.8 L830.6,1611.3 L832.8,1611.3 L832.8,1617.3 L835.0,1617.3 L835.0,1570.2 L837.2,1570.2 L837.2,1548.9 L839.4,1548.9 L839.4,1546.5 L841.6,1546.5 L841.6,1560.2 L843.8,1560.2 L843.8,1609.2 L846.0,1609.2 L846.0,1562.0 L848.2,1562.0 L848.2,1539.3 L850.4,1539.3 L850.4,1540.3 L852.6,1540.3 L852.6,1518.2 L854.8,1518.2 L854.8,1494.6 L857.0,1494.6 L857.0,1485.0 L859.2,1485.0 L859.2,1485.5 L861.4,1485.5 L861.4,1503.6 L863.6,1503.6 L863.6,1539.4 L865.8,1539.4 L865.8,1544.8 L868.0,1544.8 L868.0,1617.9 L870.2,1617.9 L870.2,1657.2 L872.4,1657.2 L872.4,1665.6 L874.6,1665.6 L874.6,1655.6 L876.8,1655.6 L876.8,1649.1 L879.0,1649.1 L879.0,1638.5 L881.2,1638.5 L881.2,1614.3 L883.4,1614.3 L883.4,1594.6 L885.6,1594.6 L885.6,1587.7 L887.8,1587.7 L887.8,1583.5 L890.0,1583.5 L890.0,1574.5 L892.2,1574.5 L892.2,1587.2 L894.4,1587.2 L894.4,1625.1 L896.6,1625.1 L896.6,1618.5 L898.8,1618.5 L898.8,1558.3 L901.0,1558.3 L901.0,1547.5 L903.2,1547.5 L903.2,1538.4 L905.4,1538.4 L905.4,1533.9 L907.6,1533.9 L907.6,1535.2 L909.8,1535.2 L909.8,1557.2 L912.0,1557.2 L912.0,1638.2 L914.2,1638.2 L914.2,1640.2 L916.4,1640.2 L916.4,1637.4 L918.6,1637.4 L918.6,1634.2 L920.8,1634.2 L920.8,1632.7 L923.0,1632.7 L923.0,1625.2 L925.2,1625.2 L925.2,1615.3 L927.4,1615.3 L927.4,1609.7 L929.6,1609.7 L929.6,1640.3 L931.8,1640.3 L931.8,1664.3 L934.0,1664.3 L934.0,1673.6 L936.2,1673.6 L936.2,1685.2 L938.4,1685.2 L938.4,1694.6 L940.6,1694.6 L940.6,1694.7 L942.8,1694.7 L942.8,1668.2 L945.0,1668.2 L945.0,1653.6 L947.2,1653.6 L947.2,1656.4 L949.4,1656.4 L949.4,1659.0 L951.6,1659.0 L951.6,1655.0 L953.8,1655.0 L953.8,1651.9 L956.0,1651.9 L956.0,1652.1 L958.2,1652.1 L958.2,1669.3 L960.4,1669.3 L960.4,1654.3 L962.6,1654.3 L962.6,1620.7 L964.8,1620.7 L964.8,1597.9 L967.0,1597.9 L967.0,1601.0 L969.2,1601.0 L969.2,1592.8 L971.4,1592.8 L971.4,1591.8 L973.6,1591.8 L973.6,1617.2 L975.8,1617.2 L975.8,1618.8 L978.0,1618.8 L978.0,1608.3 L980.2,1608.3 L980.2,1607.9 L982.4,1607.9 L982.4,1609.3 L984.6,1609.3 L984.6,1608.9 L986.8,1608.9 L986.8,1575.5 L989.0,1575.5 L989.0,1563.7 L991.2,1563.7 L991.2,1541.2 L993.4,1541.2 L993.4,1542.7 L995.6,1542.7 L995.6,1548.6 L997.8,1548.6 L997.8,1548.6 L1000.0,1548.6 L1000.0,1548.8 L1002.2,1548.8 L1002.2,1558.7 L1004.4,1558.7 L1004.4,1615.6 L1006.6,1615.6 L1006.6,1554.5 L1008.8,1554.5 L1008.8,1505.7 L1011.0,1505.7 L1011.0,1476.8 L1013.2,1476.8 L1013.2,1451.4 L1015.4,1451.4 L1015.4,1433.0 L1017.6,1433.0 L1017.6,1434.7 L1019.8,1434.7 L1019.8,1483.9 L1022.0,1483.9 L1022.0,1529.7 L1024.2,1529.7 L1024.2,1561.1 L1026.4,1561.1 L1026.4,1589.2 L1028.6,1589.2 L1028.6,1597.8 L1030.8,1597.8 L1030.8,1569.7 L1033.0,1569.7 L1033.0,1570.3 L1035.2,1570.3 L1035.2,1602.3 L1037.4,1602.3 L1037.4,1629.2 L1039.6,1629.2 L1039.6,1636.2 L1041.8,1636.2 L1041.8,1631.0 L1044.0,1631.0 L1044.0,1643.1 L1046.2,1643.1 L1046.2,1647.2 L1048.4,1647.2 L1048.4,1628.1 L1050.6,1628.1 L1050.6,1548.8 L1052.8,1548.8 L1052.8,1500.5 L1055.0,1500.5 L1055.0,1462.2 L1057.2,1462.2 L1057.2,1450.8 L1059.4,1450.8 L1059.4,1452.6 L1061.6,1452.6 L1061.6,1474.3 L1063.8,1474.3 L1063.8,1524.6 L1066.0,1524.6 L1066.0,1623.8 L1068.2,1623.8 L1068.3,1581.0 Z" fill="#fb8d8d" stroke="#ec2020" stroke-width="0.7" stroke-linejoin="miter"/>
<path d="M632.6,1581.0V1477.8M637.0,1581.0V1462.1M641.4,1581.0V1500.5M645.8,1581.0V1626.2M650.2,1581.0V1627.1M654.6,1581.0V1604.3M659.0,1581.0V1541.1M663.4,1581.0V1564.1M667.8,1581.0V1598.8M672.2,1581.0V1625.6M676.6,1581.0V1572.3M681.0,1581.0V1573.5M685.4,1581.0V1577.0M689.8,1581.0V1659.8M694.2,1581.0V1598.7M698.6,1581.0V1566.7M703.0,1581.0V1542.6M707.4,1581.0V1633.1M711.8,1581.0V1622.5M716.2,1581.0V1564.2M720.6,1581.0V1527.2M725.0,1581.0V1530.8M729.4,1581.0V1536.3M733.8,1581.0V1592.0M738.2,1581.0V1620.7M742.6,1581.0V1633.4M747.0,1581.0V1618.2M751.4,1581.0V1587.5M755.8,1581.0V1615.0M760.2,1581.0V1623.8M764.6,1581.0V1648.6M769.0,1581.0V1645.3M773.4,1581.0V1558.0M777.8,1581.0V1541.1M782.2,1581.0V1557.7M786.6,1581.0V1634.6M791.0,1581.0V1634.3M795.4,1581.0V1534.9M799.8,1581.0V1539.2M804.2,1581.0V1536.2M808.6,1581.0V1617.7M813.0,1581.0V1619.3M817.4,1581.0V1628.8M821.8,1581.0V1619.6M826.2,1581.0V1649.6M830.6,1581.0V1611.3M835.0,1581.0V1570.2M839.4,1581.0V1546.5M843.8,1581.0V1609.2M848.2,1581.0V1539.3M852.6,1581.0V1518.2M857.0,1581.0V1485.0M861.4,1581.0V1503.6M865.8,1581.0V1544.8M870.2,1581.0V1657.2M874.6,1581.0V1655.6M879.0,1581.0V1638.5M883.4,1581.0V1594.6M887.8,1581.0V1583.5M892.2,1581.0V1587.2M896.6,1581.0V1618.5M901.0,1581.0V1547.5M905.4,1581.0V1533.9M909.8,1581.0V1557.2M914.2,1581.0V1640.2M918.6,1581.0V1634.2M923.0,1581.0V1625.2M927.4,1581.0V1609.7M931.8,1581.0V1664.3M936.2,1581.0V1685.2M940.6,1581.0V1694.7M945.0,1581.0V1653.6M949.4,1581.0V1659.0M953.8,1581.0V1651.9M958.2,1581.0V1669.3M962.6,1581.0V1620.7M967.0,1581.0V1601.0M971.4,1581.0V1591.8M975.8,1581.0V1618.8M980.2,1581.0V1607.9M984.6,1581.0V1608.9M989.0,1581.0V1563.7M993.4,1581.0V1542.7M997.8,1581.0V1548.6M1002.2,1581.0V1558.7M1006.6,1581.0V1554.5M1011.0,1581.0V1476.8M1015.4,1581.0V1433.0M1019.8,1581.0V1483.9M1024.2,1581.0V1561.1M1028.6,1581.0V1597.8M1033.0,1581.0V1570.3M1037.4,1581.0V1629.2M1041.8,1581.0V1631.0M1046.2,1581.0V1647.2M1050.6,1581.0V1548.8M1055.0,1581.0V1462.2M1059.4,1581.0V1452.6M1063.8,1581.0V1524.6" stroke="#e00000" stroke-width="1.1" fill="none"/>
<path d="M630.4,1534.8 L632.4,1494.2 L634.5,1476.6 L635.8,1486.1 L637.9,1486.1 L639.2,1460.3 L640.6,1477.9 L641.9,1510.4 L643.3,1538.9 L645.3,1561.9 L646.4,1580.9 L647.3,1609.3 L648.0,1629.6 L649.4,1609.3 L651.4,1616.1 L652.8,1632.3 L654.1,1616.1 L655.5,1589.0 L656.4,1580.9 L657.5,1548.4 L659.5,1540.2 L660.9,1548.4 L662.2,1559.2 L664.3,1567.3 L667.0,1564.6 L668.3,1572.7 L669.0,1580.9 L669.7,1595.8 L671.1,1616.1 L672.4,1626.9 L673.8,1609.3 L675.1,1595.8 L676.2,1580.9 L677.1,1572.7 L679.2,1572.1 L681.9,1574.1 L683.9,1576.8 L686.0,1576.8 L687.3,1580.9 L688.0,1589.0 L689.3,1609.3 L690.7,1643.2 L691.4,1662.1 L692.7,1643.2 L694.1,1602.5 L695.4,1582.2 L696.1,1567.3 L697.5,1559.2 L698.8,1567.3 L700.2,1575.4 L701.5,1570.0 L703.6,1559.2 L704.9,1540.2 L706.3,1561.9 L707.6,1580.9 L708.3,1609.3 L709.7,1636.4 L711.0,1618.8 L713.0,1613.4 L714.4,1626.9 L715.7,1602.5 L717.1,1582.2 L718.5,1561.9 L719.8,1541.6 L721.8,1526.7 L723.9,1532.1 L725.9,1530.7 L728.6,1530.7 L730.6,1542.9 L732.7,1561.9 L734.0,1580.9 L735.4,1589.0 L737.7,1602.5 L739.7,1616.1 L741.8,1632.3 L743.1,1633.7 L745.2,1626.9 L746.5,1613.4 L747.9,1609.3 L749.2,1618.8 L750.6,1602.5 L751.9,1579.5 L753.3,1579.5 L754.6,1595.8 L756.7,1609.3 L758.7,1618.8 L761.4,1618.8 L763.4,1629.6 L764.8,1648.6 L767.5,1648.6 L770.2,1643.2 L771.6,1636.4 L772.9,1602.5 L774.3,1580.9 L775.0,1566.0 L776.3,1545.6 L777.7,1540.2 L779.7,1547.0 L781.7,1556.5 L784.4,1561.9 L785.8,1572.7 L787.1,1580.9 L787.8,1589.0 L788.5,1622.9 L789.2,1656.7 L790.5,1643.2 L791.9,1622.9 L793.9,1595.8 L794.6,1580.9 L795.3,1564.6 L796.6,1541.6 L798.0,1530.7 L799.3,1538.9 L801.4,1540.2 L803.4,1537.5 L804.8,1534.8 L806.1,1556.5 L806.8,1580.9 L808.1,1602.5 L810.2,1616.1 L812.2,1622.9 L814.2,1614.7 L816.3,1616.1 L816.9,1637.8 L818.3,1616.1 L820.3,1602.5 L822.4,1609.3 L824.4,1622.9 L825.7,1636.4 L827.1,1651.3 L828.5,1629.6 L829.8,1609.3 L831.8,1595.8 L833.2,1618.8 L835.2,1589.0 L836.6,1580.9 L837.9,1555.1 L840.0,1545.6 L842.0,1561.9 L843.4,1580.9 L844.4,1610.7 L845.8,1595.8 L846.7,1580.9 L848.1,1561.9 L850.1,1537.5 L851.4,1548.4 L853.4,1534.8 L856.1,1501.0 L858.1,1484.7 L860.8,1486.1 L862.2,1521.3 L863.5,1542.9 L865.6,1538.9 L866.9,1561.9 L868.3,1580.9 L869.0,1589.0 L870.3,1622.9 L871.7,1649.9 L873.0,1666.2 L874.4,1656.7 L876.4,1649.9 L878.4,1647.2 L879.8,1629.6 L881.8,1609.3 L883.2,1595.8 L885.2,1589.0 L887.2,1583.6 L889.3,1583.6 L890.6,1580.9 L892.0,1574.1 L893.1,1574.1 L894.0,1582.2 L895.4,1602.5 L896.1,1628.3 L897.4,1609.3 L898.8,1580.9 L900.1,1561.9 L901.5,1555.1 L903.5,1545.6 L905.5,1537.5 L907.6,1533.5 L908.9,1548.4 L911.0,1566.0 L912.3,1580.9 L912.9,1639.5 L915.3,1640.3 L917.6,1634.7 L920.8,1633.2 L923.2,1625.3 L925.5,1614.2 L927.9,1608.7 L930.3,1607.9 L931.1,1627.6 L932.2,1650.5 L933.4,1660.8 L935.0,1672.6 L936.6,1674.2 L938.2,1684.5 L939.7,1693.2 L940.9,1695.5 L942.1,1693.2 L942.9,1666.3 L944.5,1660.8 L946.1,1642.6 L947.6,1642.6 L949.2,1656.8 L950.4,1659.2 L951.6,1655.3 L953.2,1652.9 L955.5,1649.7 L957.1,1648.9 L958.7,1653.7 L959.9,1671.0 L960.7,1648.9 L961.8,1645.0 L963.0,1611.1 L963.8,1595.3 L965.0,1594.5 L966.6,1596.1 L967.8,1601.6 L968.6,1597.6 L969.7,1589.7 L970.9,1588.2 L972.1,1589.7 L973.7,1592.1 L974.5,1609.5 L976.1,1619.7 L976.8,1609.5 L978.4,1607.9 L980.8,1607.9 L983.2,1607.9 L984.7,1609.5 L986.3,1608.7 L986.7,1580.5 L987.9,1577.4 L990.5,1572.3 L993.0,1540.2 L994.7,1548.6 L998.1,1548.6 L1001.5,1548.6 L1003.2,1569.0 L1004.9,1580.5 L1005.4,1618.0 L1006.5,1602.8 L1007.4,1580.5 L1009.1,1546.9 L1010.8,1506.3 L1013.3,1474.2 L1015.0,1453.9 L1017.5,1431.0 L1019.2,1465.7 L1020.9,1511.4 L1023.5,1550.3 L1025.2,1572.3 L1026.9,1580.5 L1028.6,1589.3 L1029.7,1599.4 L1031.1,1580.5 L1032.8,1569.0 L1034.5,1575.7 L1035.8,1580.5 L1037.0,1597.7 L1038.7,1623.1 L1040.4,1636.7 L1042.9,1624.8 L1045.5,1640.0 L1047.2,1648.5 L1048.9,1623.1 L1050.6,1597.7 L1051.4,1580.5 L1052.2,1560.5 L1053.9,1518.2 L1056.1,1477.5 L1057.8,1450.5 L1059.9,1452.2 L1061.6,1470.8 L1063.2,1504.6 L1064.9,1555.4 L1066.3,1580.5 L1067.0,1602.8 L1068.3,1628.2" fill="none" stroke="#e80000" stroke-width="1.1" stroke-linejoin="round" opacity="0.8"/>
<line x1="631" y1="1581.0" x2="1068" y2="1581.0" stroke="#a8d880" stroke-width="1.6"/>
<line x1="657.2" y1="1078.5" x2="657.2" y2="1360" stroke="#333" stroke-width="1.5" stroke-dasharray="1.6 1.2"/>
<line x1="657.2" y1="1380" x2="657.2" y2="1717.5" stroke="#333" stroke-width="1.5" stroke-dasharray="1.6 1.2"/>
<line x1="738.6" y1="1078.5" x2="738.6" y2="1360" stroke="#333" stroke-width="1.5" stroke-dasharray="1.6 1.2"/>
<line x1="738.6" y1="1380" x2="738.6" y2="1717.5" stroke="#333" stroke-width="1.5" stroke-dasharray="1.6 1.2"/>
<line x1="836.8" y1="1078.5" x2="836.8" y2="1360" stroke="#333" stroke-width="1.5" stroke-dasharray="1.6 1.2"/>
<line x1="836.8" y1="1380" x2="836.8" y2="1717.5" stroke="#333" stroke-width="1.5" stroke-dasharray="1.6 1.2"/>
<line x1="912.2" y1="1078.5" x2="912.2" y2="1360" stroke="#333" stroke-width="1.5" stroke-dasharray="1.6 1.2"/>
<line x1="912.2" y1="1380" x2="912.2" y2="1717.5" stroke="#333" stroke-width="1.5" stroke-dasharray="1.6 1.2"/>
<line x1="987.0" y1="1078.5" x2="987.0" y2="1360" stroke="#333" stroke-width="1.5" stroke-dasharray="1.6 1.2"/>
<line x1="987.0" y1="1380" x2="987.0" y2="1717.5" stroke="#333" stroke-width="1.5" stroke-dasharray="1.6 1.2"/>
<line x1="1067.6" y1="1078.5" x2="1067.6" y2="1360" stroke="#333" stroke-width="1.5" stroke-dasharray="1.6 1.2"/>
<line x1="1067.6" y1="1380" x2="1067.6" y2="1717.5" stroke="#333" stroke-width="1.5" stroke-dasharray="1.6 1.2"/>
<rect x="629.8" y="987" width="2.5" height="375" fill="#555"/>
<rect x="630" y="1358.8" width="438.5" height="3.2" fill="#000"/>
<rect x="630" y="1377.4" width="438.5" height="3.2" fill="#000"/>
<rect x="630.2" y="1378" width="1.6" height="364.5" fill="#111"/>
<line x1="632" y1="1000.3" x2="735.5" y2="1000.3" stroke="#000" stroke-width="1.8"/>
<path d="M732.0,994.6999999999999 L745.5,1000.3 L732.0,1005.9 Z" fill="#000"/>
<line x1="808.5" y1="1000.3" x2="911" y2="1000.3" stroke="#000" stroke-width="1.8"/>
<path d="M812.0,994.6999999999999 L798.5,1000.3 L812.0,1005.9 Z" fill="#000"/>
<line x1="836" y1="1018" x2="913.5" y2="1018" stroke="#000" stroke-width="1.8"/>
<path d="M910.0,1012.4 L923.5,1018 L910.0,1023.6 Z" fill="#000"/>
<line x1="991.5" y1="1018" x2="1070" y2="1018" stroke="#000" stroke-width="1.8"/>
<path d="M995.0,1012.4 L981.5,1018 L995.0,1023.6 Z" fill="#000"/>
<text x="750" y="1007.5" font-family='"Liberation Serif", serif' font-size="25.5" textLength="45" lengthAdjust="spacingAndGlyphs">B/C</text>
<text x="928.8" y="1026.5" font-family='"Liberation Serif", serif' font-size="25.5" textLength="45.2" lengthAdjust="spacingAndGlyphs">A/D</text>
<line x1="657.2" y1="1078.5" x2="668.2" y2="1078.5" stroke="#000" stroke-width="1.8"/>
<path d="M664.7,1072.9 L678.2,1078.5 L664.7,1084.1 Z" fill="#000"/>
<line x1="727.6" y1="1078.5" x2="738.6" y2="1078.5" stroke="#000" stroke-width="1.8"/>
<path d="M731.1,1072.9 L717.6,1078.5 L731.1,1084.1 Z" fill="#000"/>
<text x="675.8" y="1070" font-family='"Liberation Serif", serif' font-size="25.5" textLength="52" lengthAdjust="spacingAndGlyphs">AR1</text>
<line x1="836.8" y1="1078.5" x2="847.8" y2="1078.5" stroke="#000" stroke-width="1.8"/>
<path d="M844.3,1072.9 L857.8,1078.5 L844.3,1084.1 Z" fill="#000"/>
<line x1="901.2" y1="1078.5" x2="912.2" y2="1078.5" stroke="#000" stroke-width="1.8"/>
<path d="M904.7,1072.9 L891.2,1078.5 L904.7,1084.1 Z" fill="#000"/>
<text x="852.3" y="1070" font-family='"Liberation Serif", serif' font-size="25.5" textLength="52" lengthAdjust="spacingAndGlyphs">AR2</text>
<line x1="987.0" y1="1078.5" x2="998.0" y2="1078.5" stroke="#000" stroke-width="1.8"/>
<path d="M994.5,1072.9 L1008.0,1078.5 L994.5,1084.1 Z" fill="#000"/>
<line x1="1056.6" y1="1078.5" x2="1067.6" y2="1078.5" stroke="#000" stroke-width="1.8"/>
<path d="M1060.1,1072.9 L1046.6,1078.5 L1060.1,1084.1 Z" fill="#000"/>
<text x="1003.8" y="1070" font-family='"Liberation Serif", serif' font-size="25.5" textLength="52" lengthAdjust="spacingAndGlyphs">AR3</text>
<text x="1071" y="1239" font-family='"Liberation Serif", serif' font-weight="bold" font-size="27" textLength="99" lengthAdjust="spacing">C-strain</text>
<text x="1088" y="1588.2" font-family='"Liberation Serif", serif' font-weight="bold" font-size="27">QZ-07</text>
<text transform="translate(551.5,1420) rotate(-90)" font-family='"Liberation Serif", serif' font-weight="bold" font-size="28">Hydrophilicity</text>
<text x="636.95" y="1742.6" font-family='"Liberation Serif", serif' font-size="26.8" textLength="42.4" lengthAdjust="spacing">702</text>
<text x="717.10" y="1742.6" font-family='"Liberation Serif", serif' font-size="26.8" textLength="42.4" lengthAdjust="spacing">731</text>
<text x="814.90" y="1742.6" font-family='"Liberation Serif", serif' font-size="26.8" textLength="42.4" lengthAdjust="spacing">774</text>
<text x="889.90" y="1742.6" font-family='"Liberation Serif", serif' font-size="26.8" textLength="42.4" lengthAdjust="spacing">799</text>
<text x="964.00" y="1742.6" font-family='"Liberation Serif", serif' font-size="26.8" textLength="42.4" lengthAdjust="spacing">841</text>
<text x="1046.20" y="1742.6" font-family='"Liberation Serif", serif' font-size="26.8" textLength="42.4" lengthAdjust="spacing">864</text>
</svg></body></html>
